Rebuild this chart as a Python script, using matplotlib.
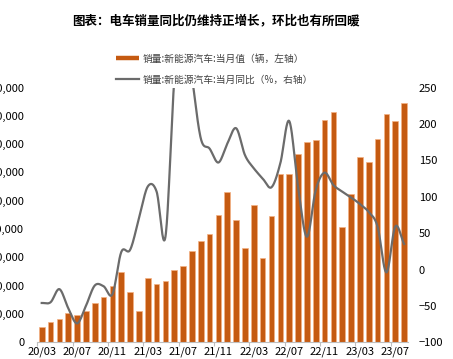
import numpy as np
import matplotlib
matplotlib.use("Agg")
import matplotlib.pyplot as plt
from matplotlib.lines import Line2D
from matplotlib.ticker import FuncFormatter, FixedLocator

plt.rcParams['font.family'] = ['Noto Sans CJK SC', 'DejaVu Sans']

# 月份 2020/03 - 2023/08
months = ['20/03', '20/04', '20/05', '20/06', '20/07', '20/08', '20/09', '20/10', '20/11', '20/12',
          '21/01', '21/02', '21/03', '21/04', '21/05', '21/06', '21/07', '21/08', '21/09', '21/10', '21/11', '21/12',
          '22/01', '22/02', '22/03', '22/04', '22/05', '22/06', '22/07', '22/08', '22/09', '22/10', '22/11', '22/12',
          '23/01', '23/02', '23/03', '23/04', '23/05', '23/06', '23/07', '23/08']

# 当月值（辆）
sales = [53000, 72000, 82000, 104000, 98000, 109000, 138000, 160000, 200000, 248000,
         179000, 110000, 226000, 206000, 217000, 256000, 271000, 321000, 357000, 383000, 450000, 531000,
         431000, 334000, 484000, 299000, 447000, 596000, 593000, 666000, 708000, 714000, 786000, 814000,
         408000, 525000, 653000, 636000, 717000, 806000, 780000, 846000]

# 当月同比（%）
yoy = [-46, -45, -27, -53, -74, -50, -22, -23, -34, 24,
       27, 70, 114, 107, 45, 260, 360, 265, 180, 166, 147, 173,
       194, 157, 139, 125, 113, 146, 204, 114, 45, 109, 133, 116,
       107, 99, 90, 79, 59, -4, 59, 35]

title = '图表：电车销量同比仍维持正增长，环比也有所回暖'
label_bar = '销量:新能源汽车:当月值（辆，左轴）'
label_line = '销量:新能源汽车:当月同比（%，右轴）'


def smooth(xs, ys, n=20):
    # Catmull-Rom 平滑，类似 Excel 的平滑线
    xs = np.asarray(xs, float)
    ys = np.asarray(ys, float)
    px = np.concatenate([[2 * xs[0] - xs[1]], xs, [2 * xs[-1] - xs[-2]]])
    py = np.concatenate([[2 * ys[0] - ys[1]], ys, [2 * ys[-1] - ys[-2]]])
    ox, oy = [], []
    t = np.linspace(0, 1, n, endpoint=False)
    for i in range(1, len(px) - 2):
        for p, o in ((px, ox), (py, oy)):
            p0, p1, p2, p3 = p[i - 1], p[i], p[i + 1], p[i + 2]
            o.extend(0.5 * ((2 * p1) + (-p0 + p2) * t + (2 * p0 - 5 * p1 + 4 * p2 - p3) * t ** 2
                            + (-p0 + 3 * p1 - 3 * p2 + p3) * t ** 3))
    ox.append(xs[-1])
    oy.append(ys[-1])
    return np.array(ox), np.array(oy)


fig = plt.figure(figsize=(4.53, 3.59), dpi=100)
ax = fig.add_axes([37.3 / 453, 1 - 342.3 / 359, 371.2 / 453, 254.8 / 359])
ax2 = ax.twinx()

x = np.arange(len(months))
ax.bar(x, sales, width=0.64, color='#C55A11', edgecolor='#F4B183', linewidth=0.5, zorder=2)
ax.set_xlim(-0.5, len(months) - 0.5)
ax.set_ylim(0, 900000)
ax.set_yticks(np.arange(0, 900001, 100000))
ax.yaxis.set_major_formatter(FuncFormatter(lambda v, p: f'{int(v):,}'))

sx, sy = smooth(x, yoy)
ax2.plot(sx, sy, color='#6B6B6B', linewidth=1.6, zorder=3)
ax2.set_ylim(-100, 250)
ax2.set_yticks(np.arange(-100, 251, 50))

# x 轴：标签每 4 个月，刻度线在类别之间
ax.set_xticks(x[::4])
ax.set_xticklabels(months[::4])
ax.xaxis.set_minor_locator(FixedLocator(np.arange(-0.5, len(months), 4)))
ax.tick_params(axis='x', which='major', length=0, pad=3, labelsize=8)
ax.tick_params(axis='x', which='minor', length=3, color='#BFBFBF', width=0.8)
ax.tick_params(axis='y', length=0, pad=9.4, labelsize=8)
ax2.tick_params(axis='y', length=0, pad=7.5, labelsize=8)

for a in (ax, ax2):
    for s in ('top', 'left', 'right'):
        a.spines[s].set_visible(False)
ax2.spines['bottom'].set_visible(False)
ax.spines['bottom'].set_color('#BFBFBF')
ax.spines['bottom'].set_linewidth(0.8)

fig.text(216 / 453, 1 - 20.7 / 359, title, ha='center', va='center', fontsize=9, fontweight='bold')

handles = [Line2D([], [], color='#C55A11', linewidth=3.2, solid_capstyle='butt'),
           Line2D([], [], color='#6B6B6B', linewidth=1.6)]
fig.legend(handles, [label_bar, label_line], loc='upper left',
           bbox_to_anchor=(111 / 453, 1 - 49 / 359), frameon=False, fontsize=7,
           handlelength=2.4, handletextpad=0.4, labelspacing=1.1, borderpad=0,
           labelcolor='#404040')

fig.savefig('out.png', dpi=100)
